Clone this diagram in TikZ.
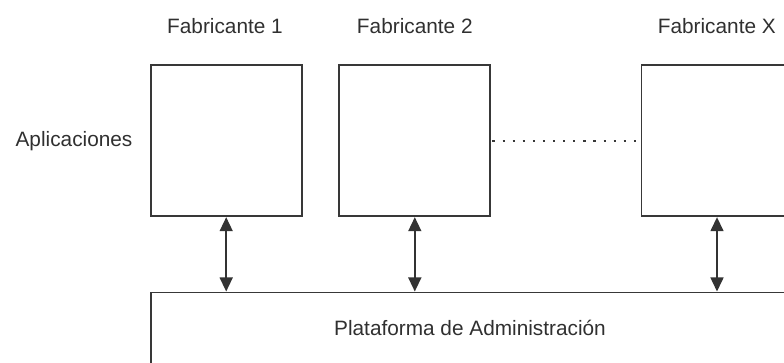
\documentclass[tikz,border=0pt]{standalone}
\usepackage{fontspec}
\setmainfont{Liberation Sans}
\usetikzlibrary{arrows.meta}
\definecolor{boxline}{HTML}{383838}
\definecolor{txt}{HTML}{303030}
\begin{document}
\begin{tikzpicture}[x=1pt,y=-1pt,
  appbox/.style={draw=boxline,line width=1.8pt,minimum width=151pt,minimum height=151pt,inner sep=0pt,fill=white},
  platbox/.style={draw=boxline,line width=1.8pt,minimum width=660pt,minimum height=120pt,inner sep=0pt,fill=white},
  lbl/.style={font=\fontsize{20.8pt}{24pt}\selectfont,text=txt,inner sep=0pt,anchor=base},
  link/.style={black!80,line width=1.5pt,{Triangle[length=14pt,width=13pt]}-{Triangle[length=14pt,width=13pt]}},
  dots/.style={boxline,line width=2.2pt,dash pattern=on 2.2pt off 7.9pt}]
\useasboundingbox (0,0) rectangle (784,363);
\clip (0,0) rectangle (784,363);
\node[appbox] (b1) at (226.2,140.8) {};
\node[appbox] (b2) at (414.8,140.8) {};
\node[appbox] (b3) at (717,140.8) {};
\node[platbox] (plat) at (480.7,352.4) {};
\node[lbl] (f1) at (225,33.3) {Fabricante 1};
\node[lbl] (f2) at (414.8,33.3) {Fabricante 2};
\node[lbl] (fx) at (716.8,33.3) {Fabricante X};
\node[lbl] (apl) at (74,146.7) {Aplicaciones};
\node[lbl] (platl) at (470,335) {Plataforma de Administración};
\draw[link] (b1.south) -- (b1.south |- plat.north);
\draw[link] (b2.south) -- (b2.south |- plat.north);
\draw[link] (b3.south) -- (b3.south |- plat.north);
\draw[dots,shorten <=1.2pt,shorten >=4pt] (b2.east) -- (b3.west);
\end{tikzpicture}
\end{document}
